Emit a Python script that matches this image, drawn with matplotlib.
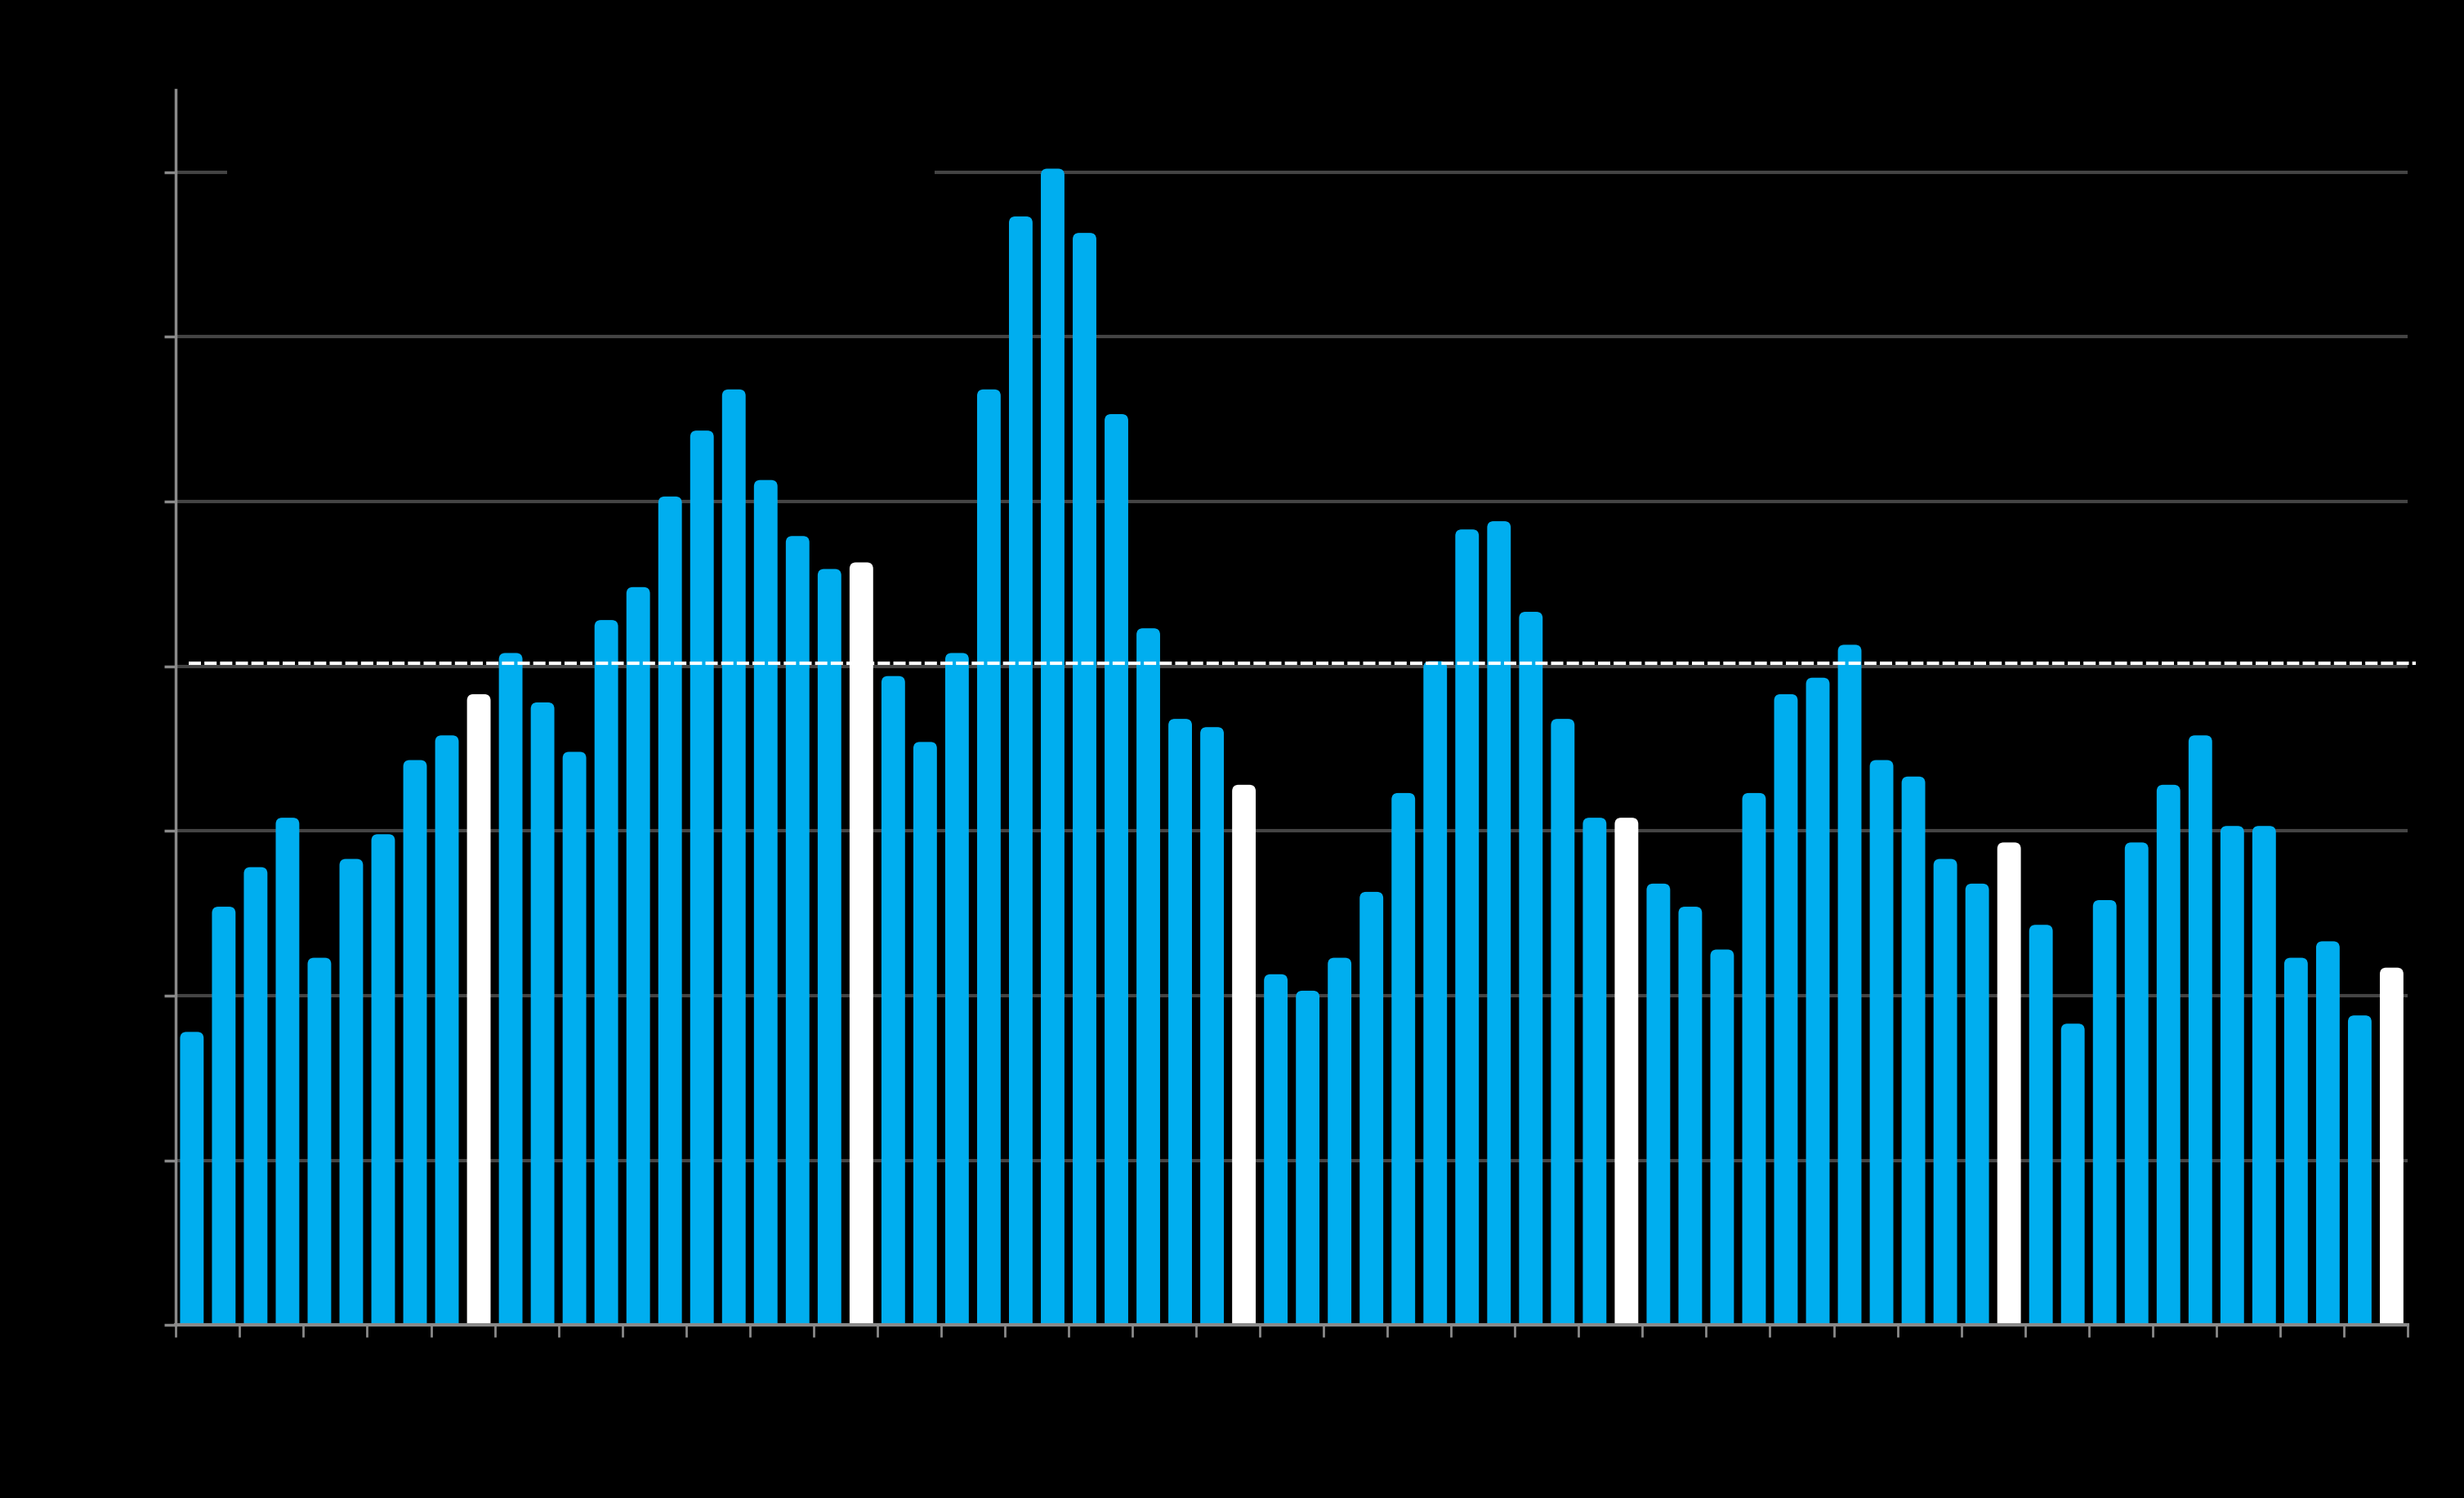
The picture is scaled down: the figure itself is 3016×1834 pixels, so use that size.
import numpy as np
import matplotlib.pyplot as plt
from matplotlib.patches import FancyBboxPatch, Rectangle

# ---- datos ----
valores = [1.78, 2.54, 2.78, 3.08, 2.23, 2.83, 2.98, 3.43, 3.58, 3.83,
           4.08, 3.78, 3.48, 4.28, 4.48, 5.03, 5.43, 5.68, 5.13, 4.79,
           4.59, 4.63, 3.94, 3.54, 4.08, 5.68, 6.73, 7.02, 6.63, 5.53,
           4.23, 3.68, 3.63, 3.28, 2.13, 2.03, 2.23, 2.63, 3.23, 4.03,
           4.83, 4.88, 4.33, 3.68, 3.08, 3.08, 2.68, 2.54, 2.28, 3.23,
           3.83, 3.93, 4.13, 3.43, 3.33, 2.83, 2.68, 2.93, 2.43, 1.83,
           2.58, 2.93, 3.28, 3.58, 3.03, 3.03, 2.23, 2.33, 1.88, 2.17]
# diciembre resaltado en blanco (serie empieza en marzo)
meses = [(i + 2) % 12 + 1 for i in range(len(valores))]
linea_ref = 4.02
y_ticks = [0, 1, 2, 3, 4, 5, 6, 7]

azul = '#00aeef'
blanco = '#ffffff'
gris_grid = '#444444'
gris_eje = '#8a8a8a'

fig = plt.figure(figsize=(30.16, 18.34), dpi=100, facecolor='black')
ax = fig.add_axes([0.0714, 0.1154, 0.9057, 0.8248])
ax.set_facecolor('black')

x = np.arange(len(valores))
ancho = 0.74
colores = [blanco if m == 12 else azul for m in meses]

ax.set_xlim(-0.5, len(valores) - 0.5)
ax.set_ylim(0, 7.5)

# gridlines
for yv in y_ticks[1:]:
    ax.axhline(yv, color=gris_grid, linewidth=3, zorder=1)

# tapa negra (leyenda invisible) sobre la grilla superior
ax.add_patch(Rectangle((0.023, 0.905), 0.317, 0.05, transform=ax.transAxes,
                       facecolor='black', edgecolor='none', zorder=1.5))

# barras redondeadas
fig.canvas.draw()
bb = ax.get_window_extent()
px_x = bb.width / (len(valores))
px_y = bb.height / 7.5
aspecto = px_x / px_y
base = -0.06
for xi, v, c in zip(x, valores, colores):
    p = FancyBboxPatch((xi - ancho / 2, base), ancho, v - base,
                       boxstyle='round,pad=0,rounding_size=0.2',
                       mutation_aspect=aspecto,
                       facecolor=c, edgecolor='none', zorder=2)
    ax.add_patch(p)

# linea de referencia punteada
ax.plot([-0.1, len(valores) - 0.25], [linea_ref, linea_ref], color='white',
        linewidth=3, linestyle=(0, (3.6, 1.0)), zorder=3, clip_on=False)

# ejes
for s in ['top', 'right']:
    ax.spines[s].set_visible(False)
ax.spines['left'].set_color(gris_eje)
ax.spines['left'].set_linewidth(2.5)
ax.spines['bottom'].set_color(gris_eje)
ax.spines['bottom'].set_linewidth(3)
ax.spines['left'].set_zorder(4)
ax.spines['bottom'].set_zorder(4)

ax.set_yticks(y_ticks)
ax.set_xticks(np.arange(-0.5, len(valores), 2))
ax.tick_params(axis='y', length=10, width=2.5, color=gris_eje, labelleft=False)
ax.tick_params(axis='x', length=11, width=2, color=gris_eje, labelbottom=False)

# extender el eje y hacia arriba
ax.spines['left'].set_bounds(0, 7.5)

fig.savefig('out.png', dpi=100, facecolor='black')
